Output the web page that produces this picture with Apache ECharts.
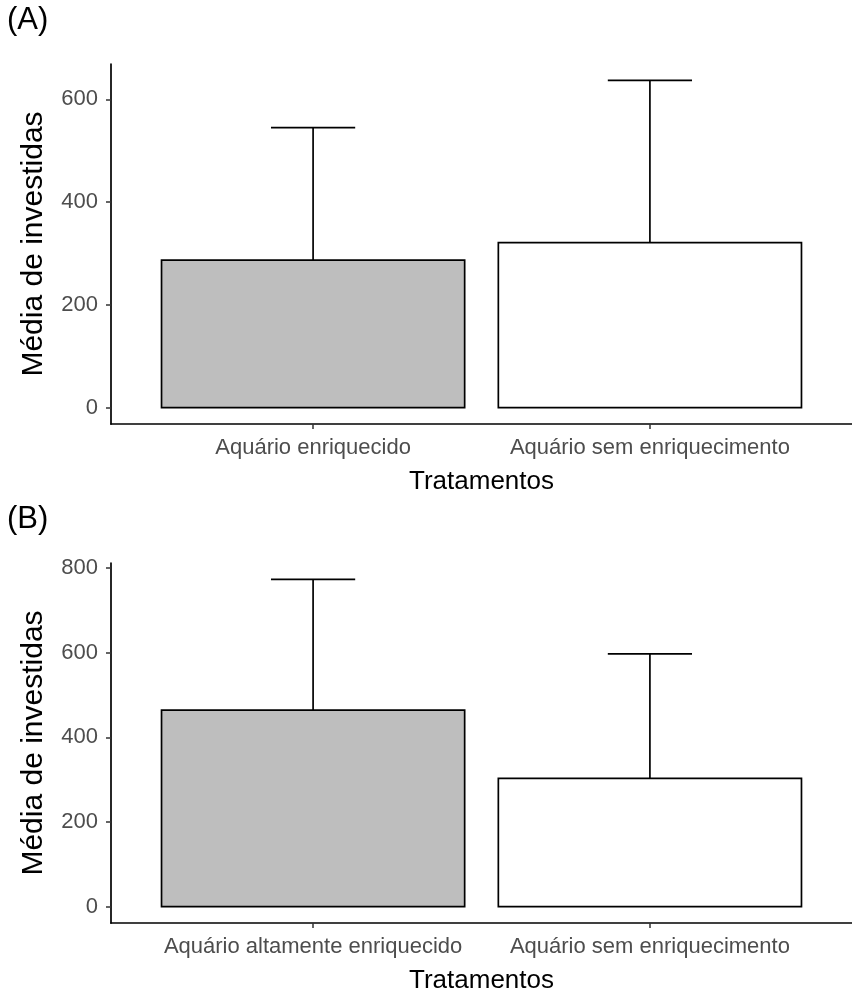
<!DOCTYPE html>
<html>
<head>
<meta charset="utf-8">
<script src="https://cdn.jsdelivr.net/npm/echarts@6/dist/echarts.min.js"></script>
<style>
  html, body { margin: 0; padding: 0; background: #fff; }
  #chart { width: 852px; height: 995px; }
</style>
</head>
<body>
<div id="chart"></div>
<script>
// Panel A: enriched vs. non-enriched aquarium
const catsA = ['Aquário enriquecido', 'Aquário sem enriquecimento'];
const meanA = [287, 321];
const upperA = [545, 637];
const ticksA = [0, 200, 400, 600];

// Panel B: highly enriched vs. non-enriched aquarium
const catsB = ['Aquário altamente enriquecido', 'Aquário sem enriquecimento'];
const meanB = [464, 303];
const upperB = [773, 597];
const ticksB = [0, 200, 400, 600, 800];

const barFills = ['#BEBEBE', '#FFFFFF'];
const xPos = [1, 2];

const FONT = '"Liberation Sans", Arial, Helvetica, sans-serif';
const BAR_HALF = 0.45;
const CAP_HALF = 0.125;

function yRange(upper) {
  const top = Math.max.apply(null, upper);
  return { min: -0.05 * top, max: 1.05 * top };
}

function xAxisFor(gridIndex, cats) {
  return {
    type: 'value', gridIndex: gridIndex, min: 0.4, max: 2.6,
    name: 'Tratamentos', nameLocation: 'middle', nameGap: 45,
    nameTextStyle: { color: '#000', fontSize: 26, fontFamily: FONT },
    axisLine: { onZero: false, lineStyle: { color: '#000', width: 1.7 } },
    axisTick: { customValues: xPos, length: 5, lineStyle: { color: '#333', width: 1.5 } },
    axisLabel: {
      customValues: xPos, margin: 13, color: '#4D4D4D', fontSize: 22, fontFamily: FONT,
      formatter: function (v) { return cats[Math.round(v) - 1]; }
    },
    splitLine: { show: false }
  };
}

function yAxisFor(gridIndex, upper, ticks) {
  const r = yRange(upper);
  return {
    type: 'value', gridIndex: gridIndex, min: r.min, max: r.max,
    name: 'Média de investidas', nameLocation: 'middle', nameGap: 62, nameRotate: 90,
    nameTextStyle: { color: '#000', fontSize: 30, fontFamily: FONT },
    axisLine: { show: true, onZero: false, lineStyle: { color: '#000', width: 1.7 } },
    axisTick: { show: true, customValues: ticks, length: 5, lineStyle: { color: '#333', width: 1.5 } },
    axisLabel: { customValues: ticks, margin: 13, color: '#4D4D4D', fontSize: 22, fontFamily: FONT },
    splitLine: { show: false }
  };
}

function barSeries(idx, means) {
  return {
    type: 'custom', xAxisIndex: idx, yAxisIndex: idx,
    data: means.map(function (m, i) { return [xPos[i], m, i]; }),
    renderItem: function (params, api) {
      const x = api.value(0), m = api.value(1), k = api.value(2);
      const p0 = api.coord([x - BAR_HALF, 0]);
      const p1 = api.coord([x + BAR_HALF, m]);
      return {
        type: 'rect',
        shape: { x: p0[0], y: p1[1], width: p1[0] - p0[0], height: p0[1] - p1[1] },
        style: { fill: barFills[k], stroke: '#000', lineWidth: 1.7 }
      };
    },
    z: 2
  };
}

function errorSeries(idx, means, upper) {
  return {
    type: 'custom', xAxisIndex: idx, yAxisIndex: idx,
    data: means.map(function (m, i) { return [xPos[i], m, upper[i]]; }),
    renderItem: function (params, api) {
      const x = api.value(0), m = api.value(1), u = api.value(2);
      const a = api.coord([x, m]);
      const b = api.coord([x, u]);
      const c0 = api.coord([x - CAP_HALF, u]);
      const c1 = api.coord([x + CAP_HALF, u]);
      const st = { stroke: '#000', lineWidth: 1.7 };
      return {
        type: 'group',
        children: [
          { type: 'line', shape: { x1: a[0], y1: a[1], x2: b[0], y2: b[1] }, style: st },
          { type: 'line', shape: { x1: c0[0], y1: c0[1], x2: c1[0], y2: c1[1] }, style: st }
        ]
      };
    },
    z: 3
  };
}

const chart = echarts.init(document.getElementById('chart'), null, { renderer: 'canvas' });
chart.setOption({
  animation: false,
  backgroundColor: '#fff',
  grid: [
    { left: 111, width: 752, top: 64, height: 360 },
    { left: 111, width: 752, top: 563, height: 361 }
  ],
  xAxis: [xAxisFor(0, catsA), xAxisFor(1, catsB)],
  yAxis: [yAxisFor(0, upperA, ticksA), yAxisFor(1, upperB, ticksB)],
  graphic: [
    { type: 'text', left: 7, top: 5, style: { text: '(A)', fontSize: 31, fontFamily: FONT, fill: '#000' } },
    { type: 'text', left: 7, top: 504, style: { text: '(B)', fontSize: 31, fontFamily: FONT, fill: '#000' } }
  ],
  series: [
    barSeries(0, meanA), errorSeries(0, meanA, upperA),
    barSeries(1, meanB), errorSeries(1, meanB, upperB)
  ]
});
</script>
</body>
</html>
